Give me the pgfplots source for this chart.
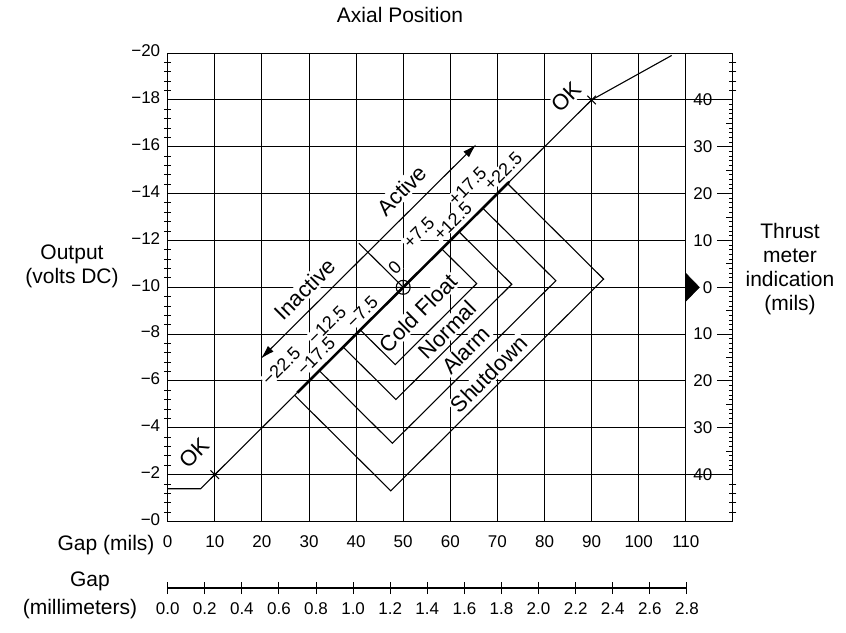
\documentclass[border=0pt]{standalone}
\usepackage{pgfplots}
\pgfplotsset{compat=1.18}
\usepackage{fontspec}
\setmainfont{Liberation Sans}
\usetikzlibrary{arrows.meta}
\newcommand\fs{\fontsize{17}{19}\selectfont}
\newcommand\fm{\fontsize{18}{21}\selectfont}
\newcommand\fl{\fontsize{22}{26}\selectfont}
\newcommand\fo{\fontsize{21}{24}\selectfont}
\begin{document}
\begin{tikzpicture}[x=1pt,y=1pt]
\useasboundingbox (0,0) rectangle (846,632);
\pgfplotsset{
  frame/.style={at={(167.7pt,110.5pt)}, anchor=south west, scale only axis,
    width=565.2pt, height=468.4pt, xmin=0, xmax=120, ymin=-20, ymax=0, y dir=reverse},
  gl/.style={black, line width=1pt, mark=none},
  ln/.style={black, line width=1.1pt, mark=none},
}
\tikzset{tl/.style={fill=white, inner sep=1.5pt, rotate=45, font=\fl},
         ts/.style={fill=white, inner sep=0.5pt, rotate=45, font=\fm}}
% ---------- main axis ----------
\begin{axis}[frame,
  axis line style={black, line width=1.1pt},
  xtick={0,10,...,110}, xticklabels={0,10,20,30,40,50,60,70,80,90,100,110},
  xtick pos=bottom, ytick pos=left,
  xmajorgrids, major grid style={black, line width=1pt},
  major tick length=0pt,
  ytick={-20,-18,...,0},
  yticklabels={−20,−18,−16,−14,−12,−10,−8,−6,−4,−2,−0},
  minor y tick num=4, minor tick length=7pt, tick align=center,
  minor tick style={black, line width=1pt},
  typeset ticklabels with strut,
  xticklabel style={font=\fs, yshift=-9pt},
  yticklabel style={font=\fs, xshift=-4pt},
]
% horizontal grid
\addplot[gl] coordinates {(0,-18) (120,-18)};
\addplot[gl] coordinates {(0,-2) (120,-2)};
\pgfplotsinvokeforeach{-16,-14,-12,-10,-8,-6,-4}{
  \addplot[gl] coordinates {(0,#1) (110,#1)};
}
% text labels (white background hides grid)
\node[tl] at (axis cs:49.7,-14.14) {Active};
\node[tl] at (axis cs:29.2,-9.92) {Inactive};
\node[ts] at (axis cs:48.2,-10.84) {0};
\node[ts] at (axis cs:53.3,-12.34) {+7.5};
\node[ts] at (axis cs:63.6,-14.32) {+17.5};
\node[ts] at (axis cs:60.5,-12.82) {+12.5};
\node[ts] at (axis cs:71.2,-14.96) {+22.5};
\node[ts] at (axis cs:33.8,-8.40) {−12.5};
\node[ts] at (axis cs:24.1,-6.62) {−22.5};
\node[ts] at (axis cs:41.3,-8.94) {−7.5};
\node[ts] at (axis cs:31.5,-7.06) {−17.5};
\node[tl] at (axis cs:5.6,-2.91) {OK};
\node[tl] at (axis cs:84.7,-18.14) {OK};
\node[tl] at (axis cs:53.2,-8.9) {Cold Float};
\node[tl] at (axis cs:59.4,-8.18) {Normal};
\node[tl] at (axis cs:63.3,-7.32) {Alarm};
\node[tl] at (axis cs:68.2,-6.30) {Shutdown};
% main characteristic line
\addplot[ln] coordinates {(0,-1.4) (7,-1.4) (10,-2) (90,-18) (107,-19.9)};
\addplot[black, line width=2.6pt, mark=none] coordinates {(27.5,-5.5) (72.5,-14.5)};
% active / inactive arrow
\addplot[ln, {Latex[length=14pt,width=8pt]}-{Latex[length=14pt,width=8pt]}] coordinates {(19.75,-6.95) (65.5,-16.1)};
% zero line
\addplot[ln] coordinates {(50,-10) (40.6,-11.88)};
% boxes: Cold Float, Normal, Alarm, Shutdown
\addplot[ln] coordinates {(40.9,-8.18) (48.3,-6.70) (65.6,-10.16) (58.2,-11.64)};
\addplot[ln] coordinates {(37.25,-7.45) (48.45,-5.21) (73.05,-10.13) (61.85,-12.37)};
\addplot[ln] coordinates {(32.2,-6.44) (47.7,-3.34) (82.4,-10.28) (66.9,-13.38)};
\addplot[ln] coordinates {(26.95,-5.39) (47.35,-1.31) (92.55,-10.35) (72.15,-14.43)};
% marks
\addplot[only marks, mark=x, mark size=6pt, mark options={line width=1.1pt}] coordinates {(10,-2) (90,-18)};
\addplot[only marks, mark=oplus, mark size=7pt, mark options={line width=1.1pt, fill=none}] coordinates {(50,-10)};
% pointer
\addplot[fill=black, draw=black, mark=none] coordinates {(110,-10.6) (112.9,-10) (110,-9.4)} -- cycle;
\end{axis}
% ---------- thrust scale (right) ----------
\begin{axis}[frame, hide x axis, axis y line*=right,
  axis line style={black, line width=1.1pt},
  ytick={-18,-16,...,-2}, yticklabels={40,30,20,10,0,10,20,30,40},
  tick align=inside, major tick length=16pt,
  minor ytick={-17.8,-17.6,-17.4,-17.2,-16.8,-16.6,-16.4,-16.2,-15.8,-15.6,-15.4,-15.2,-14.8,-14.6,-14.4,-14.2,-13.8,-13.6,-13.4,-13.2,-12.8,-12.6,-12.4,-12.2,-11.8,-11.6,-11.4,-11.2,-10.8,-10.6,-10.4,-10.2,-9.8,-9.6,-9.4,-9.2,-8.8,-8.6,-8.4,-8.2,-7.8,-7.6,-7.4,-7.2,-6.8,-6.6,-6.4,-6.2,-5.8,-5.6,-5.4,-5.2,-4.8,-4.6,-4.4,-4.2,-3.8,-3.6,-3.4,-3.2,-2.8,-2.6,-2.4,-2.2},
  minor tick length=3.5pt,
  every tick/.style={black, line width=1pt},
  yticklabel style={font=\fs, anchor=east, xshift=-17pt},
  extra y ticks={-19.6,-19.2,-18.8,-18.4,-1.6,-1.2,-0.8,-0.4},
  extra y tick labels={},
  extra y tick style={tick align=center, major tick length=7pt},
]
\addplot[draw=none] coordinates {(0,-10)};
\end{axis}
\begin{axis}[frame, hide x axis, axis y line*=right,
  axis line style={black, line width=1.1pt},
  ytick={-17,-15,...,-3}, yticklabels={},
  tick align=inside, major tick length=7pt,
  every tick/.style={black, line width=1pt},
]
\addplot[draw=none] coordinates {(0,-10)};
\end{axis}
% ---------- millimetre scale ----------
\begin{axis}[at={(167.7pt,44pt)}, anchor=south west, scale only axis,
  width=519.2pt, height=10pt, xmin=0, xmax=2.8, ymin=0, ymax=1,
  hide y axis, axis x line=bottom, axis line style={-, black, line width=1.1pt},
  xtick={0,0.2,0.4,0.6,0.8,1.0,1.2,1.4,1.6,1.8,2.0,2.2,2.4,2.6,2.8},
  xticklabels={0.0,0.2,0.4,0.6,0.8,1.0,1.2,1.4,1.6,1.8,2.0,2.2,2.4,2.6,2.8},
  tick align=center, major tick length=12pt,
  every tick/.style={black, line width=1pt},
  typeset ticklabels with strut,
  xticklabel style={font=\fs, yshift=-4pt},
]
\addplot[draw=none] coordinates {(0,0)};
\end{axis}
% ---------- labels ----------
\node[font=\fo] at (400,617) {Axial Position};
\node[font=\fo, align=center] at (72,366) {Output\\(volts DC)};
\node[font=\fo, align=center] at (790,363) {Thrust\\meter\\indication\\(mils)};
\node[font=\fo, anchor=east] at (158,87) {Gap (mils)};
\node[font=\fo] at (90,51) {Gap};
\node[font=\fo] at (80,23) {(millimeters)};
\end{tikzpicture}
\end{document}
